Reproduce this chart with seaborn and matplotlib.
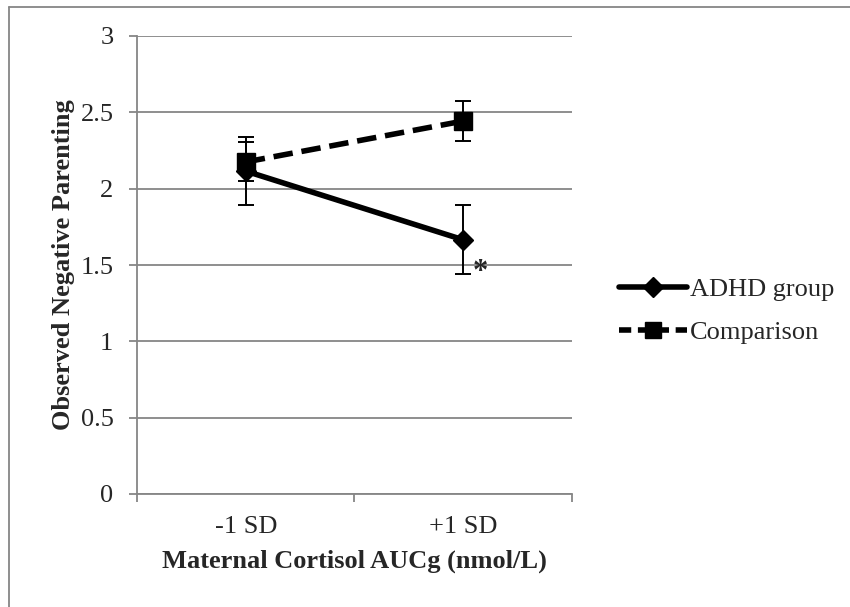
import numpy as np
import pandas as pd
import seaborn as sns
import matplotlib.pyplot as plt
from matplotlib.lines import Line2D

levels = ["-1 SD", "+1 SD"]
groups = ["ADHD group", "Comparison"]
adhd_mean = [2.115, 1.665]
adhd_err = [0.225, 0.225]
comp_mean = [2.175, 2.443]
comp_err = [0.128, 0.13]
yticks = [0, 0.5, 1, 1.5, 2, 2.5, 3]
ytick_labels = ["0", "0.5", "1", "1.5", "2", "2.5", "3"]

df = pd.DataFrame({
    "level": levels * 2,
    "group": [groups[0]] * 2 + [groups[1]] * 2,
    "value": adhd_mean + comp_mean,
})

sns.set_theme(style="white")
plt.rcParams["font.family"] = ["Liberation Serif", "DejaVu Serif"]
GRAY = "#868686"
FS = 19

fig = plt.figure(figsize=(8.5, 6.07), dpi=100)
ax = fig.add_axes([137 / 850, 1 - 494 / 607, (572 - 137) / 850, (494 - 36) / 607])

# error bars
ax.errorbar([0, 1], adhd_mean, yerr=adhd_err, fmt="none", ecolor="black",
            elinewidth=1.4, capsize=6, capthick=1.4, zorder=2)
ax.errorbar([0, 1], comp_mean, yerr=comp_err, fmt="none", ecolor="black",
            elinewidth=1.4, capsize=6, capthick=1.4, zorder=2)

sns.pointplot(data=df, x="level", y="value", hue="group", order=levels,
              hue_order=groups, palette=["black", "black"], markers=["D", "s"],
              linestyles=["-", (0, (3.5, 1.6))], errorbar=None, dodge=False,
              ax=ax, legend=False, linewidth=4, markersize=10,
              markeredgewidth=1)
for ln in ax.lines:
    if ln.get_marker() == "s":
        ln.set_markersize(12.5)
    ln.set_zorder(3)

ax.set_xlim(-0.5, 1.5)
ax.set_ylim(0, 3)
ax.set_yticks(yticks)
ax.set_yticklabels(ytick_labels, fontsize=FS)
ax.set_xticks([0, 1])
ax.set_xticklabels(levels, fontsize=FS)
ax.set_xticks([-0.5, 0.5, 1.5], minor=True)
ax.tick_params(axis="x", which="major", length=0, pad=16)
ax.tick_params(axis="x", which="minor", length=6, width=1.3, color=GRAY,
               direction="out", bottom=True)
ax.tick_params(axis="y", which="major", length=6, width=1.3, color=GRAY,
               direction="out", left=True, pad=11)

ax.yaxis.grid(True, color=GRAY, linewidth=1.3)
ax.xaxis.grid(False)
ax.set_axisbelow(True)
for s in ["top", "right"]:
    ax.spines[s].set_visible(False)
for s in ["left", "bottom"]:
    ax.spines[s].set_color(GRAY)
    ax.spines[s].set_linewidth(1.3)

ax.set_xlabel("Maternal Cortisol AUCg (nmol/L)", fontsize=FS, fontweight="bold",
              labelpad=8)
ax.set_ylabel("Observed Negative Parenting", fontsize=FS, fontweight="bold",
              labelpad=4)

ax.text(1.077, 1.45, "*", fontsize=22, fontweight="bold", ha="center",
        va="center")

handles = [
    Line2D([], [], color="black", lw=4, marker="D", markersize=10),
    Line2D([], [], color="black", lw=4, linestyle=(0, (2.2, 1.2)), marker="s",
           markersize=12),
]
fig.legend(handles, groups, loc="center left",
           bbox_to_anchor=(608 / 850, 1 - 311 / 607), frameon=False,
           fontsize=FS, handlelength=2.6, handletextpad=0.1, labelspacing=0.75,
           borderaxespad=0)

# outer chart border (left and top visible)
fig.add_artist(Line2D([9 / 850, 9 / 850], [0, 1 - 7 / 607],
                      transform=fig.transFigure, color=GRAY, lw=1.3))
fig.add_artist(Line2D([9 / 850, 1], [1 - 7 / 607, 1 - 7 / 607],
                      transform=fig.transFigure, color=GRAY, lw=1.3))

fig.savefig("out.png", dpi=100)
